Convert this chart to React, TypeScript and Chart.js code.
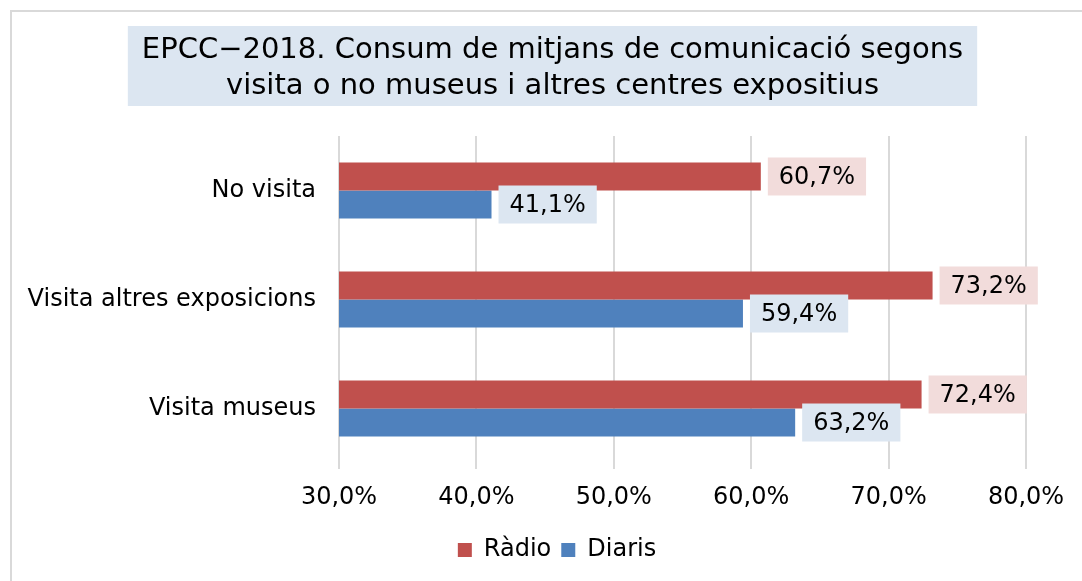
import React, { useEffect, useRef } from 'react';
import { Chart, registerables } from 'chart.js';

Chart.register(...registerables);

const categories = ['No visita', 'Visita altres exposicions', 'Visita museus'];
const radioValues = [60.7, 73.2, 72.4];
const diarisValues = [41.1, 59.4, 63.2];
const xTicks = [30, 40, 50, 60, 70, 80];
const titleLines = [
  'EPCC\u22122018. Consum de mitjans de comunicació segons',
  'visita o no museus i altres centres expositius',
];

const FONT = '"DejaVu Sans", Verdana, sans-serif';
const fmt = (v: number) => v.toFixed(1).replace('.', ',') + '%';

const framePlugin = {
  id: 'frameAndTitle',
  afterLayout(chart: any) {
    const lg = chart.legend;
    if (lg) {
      lg.left += 44;
      lg.right += 44;
    }
  },
  beforeDraw(chart: any) {
    const ctx = chart.ctx;
    ctx.save();
    ctx.fillStyle = '#ffffff';
    ctx.fillRect(0, 0, chart.width, chart.height);
    // outer frame
    ctx.fillStyle = '#d9d9d9';
    ctx.fillRect(10, 10, chart.width - 10, 2);
    ctx.fillRect(10, 10, 2, chart.height - 10);
    // title
    ctx.font = `29px ${FONT}`;
    const w = Math.max(...titleLines.map((t) => ctx.measureText(t).width));
    const cx = 552.5;
    ctx.fillStyle = '#dce6f1';
    ctx.fillRect(cx - w / 2 - 14, 26, w + 28, 80);
    ctx.fillStyle = '#000000';
    ctx.textAlign = 'center';
    ctx.textBaseline = 'middle';
    titleLines.forEach((t, i) => ctx.fillText(t, cx, 50 + i * 36));
    ctx.restore();
  },
};

const labelBg = ['#f2dcdb', '#dce6f1'];

const dataLabelPlugin = {
  id: 'dataLabels',
  afterDatasetsDraw(chart: any) {
    const ctx = chart.ctx;
    ctx.save();
    ctx.font = `24px ${FONT}`;
    ctx.textBaseline = 'middle';
    ctx.textAlign = 'left';
    chart.data.datasets.forEach((ds: any, di: number) => {
      const meta = chart.getDatasetMeta(di);
      meta.data.forEach((el: any, i: number) => {
        const text = fmt(ds.data[i]);
        const tw = ctx.measureText(text).width;
        const bx = el.x + 7;
        const bh = 38;
        ctx.fillStyle = labelBg[di];
        ctx.fillRect(bx, el.y - bh / 2, tw + 22, bh);
        ctx.fillStyle = '#000000';
        ctx.fillText(text, bx + 11, el.y + 1);
      });
    });
    ctx.restore();
  },
};

export default function App() {
  const ref = useRef<HTMLCanvasElement | null>(null);
  useEffect(() => {
    if (!ref.current) return;
    const chart = new Chart(ref.current, {
      type: 'bar',
      data: {
        labels: categories,
        datasets: [
          {
            label: 'Ràdio',
            data: radioValues,
            backgroundColor: '#c0504d',
            categoryPercentage: 0.514,
            barPercentage: 1,
          },
          {
            label: 'Diaris',
            data: diarisValues,
            backgroundColor: '#4f81bd',
            categoryPercentage: 0.514,
            barPercentage: 1,
          },
        ],
      },
      options: {
        indexAxis: 'y',
        responsive: false,
        animation: false,
        devicePixelRatio: 1,
        layout: { padding: { left: 0, right: 56, top: 136, bottom: 9 } },
        plugins: {
          title: { display: false },
          tooltip: { enabled: false },
          legend: {
            display: true,
            position: 'bottom',
            labels: {
              color: '#000000',
              font: { family: FONT, size: 24 },
              boxWidth: 14,
              boxHeight: 14,
              padding: 10,
            },
          },
        },
        scales: {
          x: {
            type: 'linear',
            min: 30,
            max: 80,
            afterBuildTicks: (s: any) => {
              s.ticks = xTicks.map((v) => ({ value: v }));
            },
            afterFit: (s: any) => {
              s.height = 65;
            },
            ticks: {
              color: '#000000',
              font: { family: FONT, size: 24 },
              padding: 14,
              maxRotation: 0,
              callback: (v: any) => fmt(Number(v)),
            },
            grid: {
              color: '#d9d9d9',
              lineWidth: 2,
              drawTicks: true,
              tickLength: 6,
            },
            border: { display: false },
          },
          y: {
            type: 'category',
            afterFit: (s: any) => {
              s.width = 339;
            },
            ticks: {
              color: '#000000',
              font: { family: FONT, size: 24 },
              padding: 23,
            },
            grid: { display: false, drawTicks: false },
            border: { display: false },
          },
        },
      },
      plugins: [framePlugin, dataLabelPlugin],
    } as any);
    return () => chart.destroy();
  }, []);
  return (
    <div style={{ position: 'absolute', left: 0, top: 0, width: 1082, height: 581 }}>
      <canvas ref={ref} width={1082} height={581} style={{ width: 1082, height: 581 }} />
    </div>
  );
}
